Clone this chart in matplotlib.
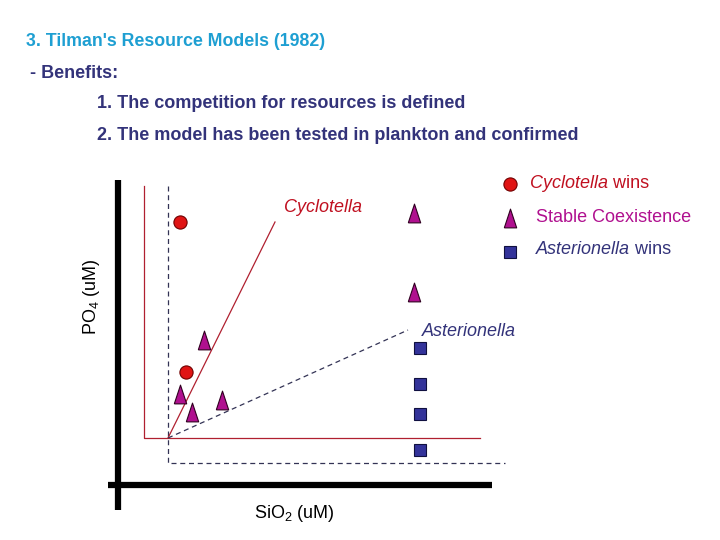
import matplotlib
matplotlib.use('Agg')
import matplotlib.pyplot as plt

plt.rcParams['font.family'] = ['Liberation Sans', 'DejaVu Sans']
plt.rcParams['mathtext.fontset'] = 'custom'
plt.rcParams['mathtext.rm'] = 'Liberation Sans'
plt.rcParams['mathtext.it'] = 'Liberation Sans:italic'

# diagram works in picture units: x to the right, y downwards
supply_x, supply_y = 168, 438          # supply point where both isoclines meet
cyc_isocline_x = [144, 144, 480]       # Cyclotella ZNGI (red L)
cyc_isocline_y = [186, 438, 438]
ast_isocline_x = [168, 168, 505]       # Asterionella ZNGI (dashed L)
ast_isocline_y = [186, 463, 463]
cyc_vector = (275, 222)                # consumption vector end points
ast_vector = (408, 330)

cyc_wins_x = [180, 186]
cyc_wins_y = [222, 372]
coexist_x = [414, 414, 204, 180, 192, 222]
coexist_y = [213, 292, 340, 394, 412, 400]
ast_wins_x = [420, 420, 420, 420]
ast_wins_y = [348, 384, 414, 450]

header = "3. Tilman's Resource Models (1982)"
sub = "- Benefits:"
points = ["1. The competition for resources is defined",
          "2. The model has been tested in plankton and confirmed"]

navy = '#33337a'
red = '#e01414'
magenta = '#b0108f'
blue = '#33339a'
tri = [(-0.33, -0.5), (0.33, -0.5), (0, 0.5), (-0.33, -0.5)]
fs = 13

fig = plt.figure(figsize=(7.2, 5.4), dpi=100)
ax = fig.add_axes([0, 0, 1, 1])
ax.set_xlim(0, 720)
ax.set_ylim(540, 0)
ax.axis('off')

ax.text(26, 42, header, color='#1e9fd2', fontsize=12.8, fontweight='bold', va='center')
ax.text(30, 73, sub, color=navy, fontsize=fs, fontweight='bold', va='center')
ax.text(97, 104, points[0], color=navy, fontsize=fs, fontweight='bold', va='center')
ax.text(97, 136, points[1], color=navy, fontsize=fs, fontweight='bold', va='center')

# thick axes
ax.plot([118, 118], [180, 510], color='black', lw=4.5, solid_capstyle='butt')
ax.plot([108, 492], [485, 485], color='black', lw=4.5, solid_capstyle='butt')

# isoclines and vectors
ax.plot(cyc_isocline_x, cyc_isocline_y, color='#b02030', lw=0.9)
ax.plot(ast_isocline_x, ast_isocline_y, color='#333355', lw=0.9, ls=(0, (4, 3)))
ax.plot([supply_x, cyc_vector[0]], [supply_y, cyc_vector[1]], color='#b02030', lw=0.9)
ax.plot([supply_x, ast_vector[0]], [supply_y, ast_vector[1]], color='#333355', lw=0.9,
        ls=(0, (4, 3)))

ax.text(284, 207, 'Cyclotella', color='#c01020', fontsize=fs, style='italic', va='center')
ax.text(422, 332, 'Asterionella', color=navy, fontsize=fs, style='italic', va='center')

ax.plot(cyc_wins_x, cyc_wins_y, 'o', ms=9.5, mfc=red, mec='#700000', mew=0.8)
ax.plot(coexist_x, coexist_y, marker=tri, ls='none', ms=13.5, mfc=magenta, mec='#300020', mew=0.8)
ax.plot(ast_wins_x, ast_wins_y, 's', ms=8.5, mfc=blue, mec='#101040', mew=0.8)

# legend
ax.plot([510], [184], 'o', ms=9.5, mfc=red, mec='#700000', mew=0.8)
ax.plot([510], [218], marker=tri, ls='none', ms=13.5, mfc=magenta, mec='#300020', mew=0.8)
ax.plot([510], [252], 's', ms=8.5, mfc=blue, mec='#101040', mew=0.8)
t1 = ax.text(530, 183, 'Cyclotella', color='#c01020', fontsize=fs, style='italic', va='center')
ax.annotate(' wins', xy=(1, 0.5), xycoords=t1, color='#c01020', fontsize=fs, va='center')
ax.text(536, 218, 'Stable Coexistence', color=magenta, fontsize=fs, va='center')
t3 = ax.text(536, 249, 'Asterionella', color=navy, fontsize=fs, style='italic', va='center')
ax.annotate(' wins', xy=(1, 0.5), xycoords=t3, color=navy, fontsize=fs, va='center')

ax.text(294, 514, r'SiO$_2$ (uM)', color='black', fontsize=fs, ha='center', va='center')
ax.text(92, 297, r'PO$_4$ (uM)', color='black', fontsize=fs, ha='center', va='center',
        rotation=90)

fig.savefig('out.png', dpi=100)
